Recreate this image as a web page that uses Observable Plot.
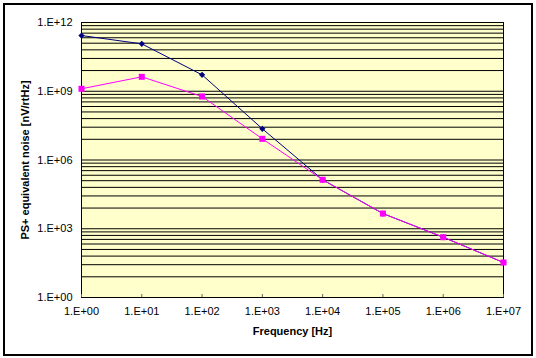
<!DOCTYPE html>
<html><head><meta charset="utf-8">
<script src="https://cdn.jsdelivr.net/npm/d3@7"></script>
<script src="https://cdn.jsdelivr.net/npm/@observablehq/plot@0.6"></script>
<style>
body{margin:0;background:#fff}
#wrap{position:relative;width:536px;height:358px}
#border{position:absolute;left:3px;top:3px;width:526px;height:349px;border:2px solid #000;pointer-events:none}
</style>
</head><body>
<div id="wrap"><div id="border"></div></div>
<script>
// Data
const freq = [1, 1e1, 1e2, 1e3, 1e4, 1e5, 1e6, 1e7];
const noiseBlue = [2.7e11, 1.17e11, 5.2e9, 2.3e7, 1.37e5, 4.6e3, 427, 33.7];
const noiseMagenta = [1.28e9, 4.26e9, 5.9e8, 8.4e6, 1.37e5, 4.6e3, 427, 33.7];
const yTicks = [1, 1e3, 1e6, 1e9, 1e12];
const xTicks = freq;
// gridline multiples within each major (x1000) interval
const gridMultiples = [1, 8, 27, 64, 125, 216, 343, 512, 729];
const gridMajors = [1, 1e3, 1e6, 1e9];
const gridY = gridMajors.flatMap(m => gridMultiples.map(k => m * k)).concat([1e12]);

const fmt = d => "1.E+" + String(Math.round(Math.log10(d))).padStart(2, "0");
const dataBlue = freq.map((f, i) => ({f, v: noiseBlue[i]}));
const dataMag = freq.map((f, i) => ({f, v: noiseMagenta[i]}));

const chart = Plot.plot({
  width: 536, height: 358,
  marginLeft: 81, marginRight: 33, marginTop: 22, marginBottom: 61,
  style: {fontFamily: "'Liberation Sans', Arial, sans-serif", fontSize: "11px", color: "#000", background: "transparent"},
  x: {type: "log", domain: [1, 1e7], label: null},
  y: {type: "log", domain: [1, 1e12], label: null},
  marks: [
    Plot.frame({fill: "#FFFFCC"}),
    Plot.ruleY(gridY, {stroke: "#000", strokeWidth: 1}),
    Plot.frame({stroke: "#000"}),
    Plot.axisX({ticks: xTicks, tickFormat: fmt, tickSize: 0, tickPadding: 10, label: null}),
    Plot.axisX({ticks: xTicks, tickFormat: () => "", tickSize: 3, dy: -3, stroke: "#666", label: null}),
    Plot.axisY({ticks: yTicks, tickFormat: fmt, tickSize: 0, tickPadding: 9, label: null}),
    Plot.line(dataBlue, {x: "f", y: "v", stroke: "#000080", strokeWidth: 1}),
    Plot.dot(dataBlue, {x: "f", y: "v", symbol: "diamond2", fill: "#000080", stroke: "none", r: 2.8}),
    Plot.line(dataMag, {x: "f", y: "v", stroke: "#FF00FF", strokeWidth: 1}),
    Plot.dot(dataMag, {x: "f", y: "v", symbol: "square", fill: "#FF00FF", stroke: "none", r: 3.4}),
    Plot.text(["Frequency [Hz]"], {text: d => d, frameAnchor: "bottom", dy: 37, fontWeight: "bold"}),
    Plot.text(["PS+ equivalent noise [nV/rtHz]"], {text: d => d, frameAnchor: "left", textAnchor: "middle", dx: -56, rotate: -90, fontWeight: "bold"})
  ]
});
document.getElementById("wrap").prepend(chart);
</script>
</body></html>
